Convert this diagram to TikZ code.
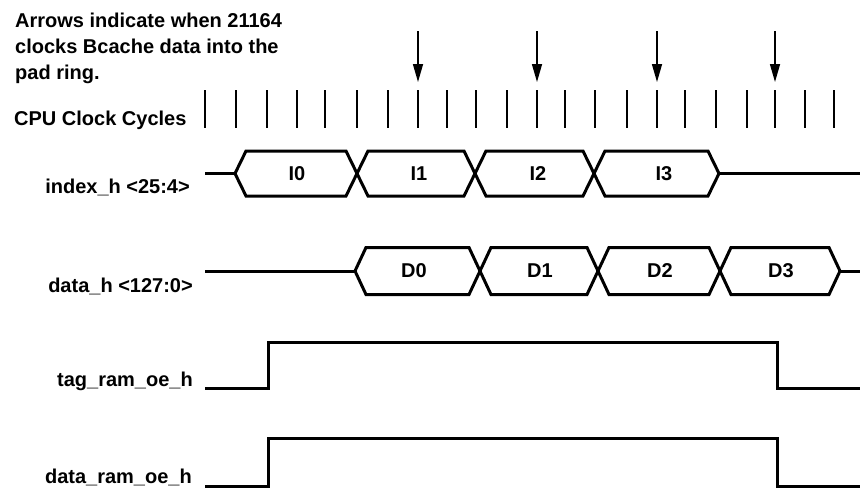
\documentclass[tikz,border=0pt]{standalone}
\usepackage{fontspec}
\setmainfont{Liberation Sans}
\usetikzlibrary{arrows.meta,calc}
\begin{document}
\begin{tikzpicture}[x=1pt,y=-1pt,
  lbl/.style={font=\fontsize{20}{24}\selectfont\bfseries, inner sep=0pt},
  sig/.style={line width=3pt, line join=miter},
  clktick/.style={line width=1.8pt},
  clkarrow/.style={line width=1.5pt, -{Triangle[length=18pt,width=10pt]}},
]
\path[use as bounding box, fill=white] (0,0) rectangle (860,491);

% title
\node[lbl, anchor=base west] (t1) at (15,27) {Arrows indicate when 21164};
\node[lbl, anchor=base west] (t2) at (15,53) {clocks Bcache data into the};
\node[lbl, anchor=base west] (t3) at (15,79) {pad ring.};

% signal labels
\node[lbl, anchor=base west] (cpu) at (14,125) {CPU Clock Cycles};
\node[lbl, anchor=base east] (idx) at (190,193) {index\_h <25:4>};
\node[lbl, anchor=base east] (dat) at (193,292) {data\_h <127:0>};
\node[lbl, anchor=base east] (tag) at (193,386) {tag\_ram\_oe\_h};
\node[lbl, anchor=base east] (dro) at (192,483) {data\_ram\_oe\_h};

% clock ticks
\foreach \x [count=\i] in {205,236,267,297,325,357,388,418,447,476,507,537,565,595,627,657,685,716,747,775,805,834}{
  \coordinate (ct\i) at (\x,90);
  \coordinate (cb\i) at (\x,128);
  \draw[clktick] (ct\i) -- (cb\i);
}

% arrows: when 21164 clocks Bcache data
\foreach \i in {8,12,16,20}{
  \coordinate (as\i) at ($(ct\i)+(0,-59)$);
  \coordinate (ae\i) at ($(ct\i)+(0,-8)$);
  \draw[clkarrow] (as\i) -- (ae\i);
}

% index_h bus
\def\im{173.5}\def\ih{22.5}\def\d{11}
\coordinate (is) at (205,\im);
\coordinate (ie) at (860,\im);
\foreach \a/\b [count=\k] in {235/357,357/475,475/594,594/719}{
  \draw[sig] (\a,\im) -- (\a+\d,\im-\ih) -- (\b-\d,\im-\ih) -- (\b,\im)
     -- (\b-\d,\im+\ih) -- (\a+\d,\im+\ih) -- cycle;
}
\coordinate (i0) at (235,\im);
\coordinate (i4) at (719,\im);
\draw[sig] (is) -- (i0);
\draw[sig] (i4) -- (ie);
\node[lbl] (I0) at (297,\im) {I0};
\node[lbl] (I1) at (419,\im) {I1};
\node[lbl] (I2) at (538,\im) {I2};
\node[lbl] (I3) at (664,\im) {I3};

% data_h bus
\def\dm{271}\def\dh{23.5}
\coordinate (ds) at (205,\dm);
\coordinate (de) at (860,\dm);
\foreach \a/\b in {355/480,480/598,598/720,720/840}{
  \draw[sig] (\a,\dm) -- (\a+\d,\dm-\dh) -- (\b-\d,\dm-\dh) -- (\b,\dm)
     -- (\b-\d,\dm+\dh) -- (\a+\d,\dm+\dh) -- cycle;
}
\coordinate (d0) at (355,\dm);
\coordinate (d4) at (840,\dm);
\draw[sig] (ds) -- (d0);
\draw[sig] (d4) -- (de);
\node[lbl] (D0) at (414,\dm) {D0};
\node[lbl] (D1) at (540,\dm) {D1};
\node[lbl] (D2) at (660,\dm) {D2};
\node[lbl] (D3) at (781,\dm) {D3};

% tag_ram_oe_h
\coordinate (ts) at (205,388);
\coordinate (tr) at (268,388);
\coordinate (th) at (268,342);
\coordinate (tf) at (777,342);
\coordinate (tl) at (777,388);
\coordinate (te) at (860,388);
\draw[sig] (ts) -- (tr) -- (th) -- (tf) -- (tl) -- (te);

% data_ram_oe_h
\coordinate (rs) at (205,486);
\coordinate (rr) at (268,486);
\coordinate (rh) at (268,438);
\coordinate (rf) at (777,438);
\coordinate (rl) at (777,486);
\coordinate (re) at (860,486);
\draw[sig] (rs) -- (rr) -- (rh) -- (rf) -- (rl) -- (re);
\end{tikzpicture}
\end{document}
